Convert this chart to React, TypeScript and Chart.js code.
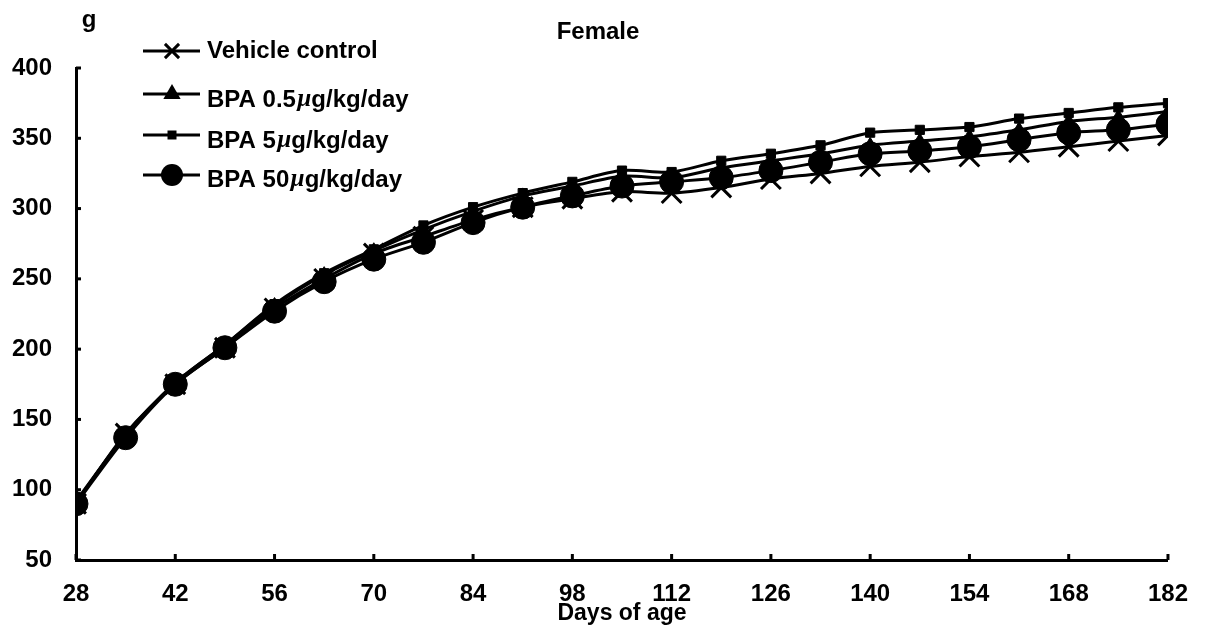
import React, { useEffect, useRef } from "react";
import { Chart, registerables } from "chart.js";
Chart.register(...registerables);

const days = [28, 35, 42, 49, 56, 63, 70, 77, 84, 91, 98, 105, 112, 119, 126, 133, 140, 147, 154, 161, 168, 175, 182];
const vehicleControl = [90, 140, 175, 201, 229, 250, 268, 280, 292, 301, 307, 312, 311, 315, 321, 325, 330, 333, 337, 340, 344, 348, 352];
const bpa05 = [91, 139, 176, 203, 231, 253, 270, 285, 298, 309, 316, 323, 322, 329, 334, 339, 345, 348, 351, 356, 362, 365, 369];
const bpa5 = [92, 139, 176, 203, 232, 254, 271, 288, 301, 311, 319, 327, 326, 334, 339, 345, 354, 356, 358, 364, 368, 372, 375];
const bpa50 = [90, 137, 175, 201, 227, 248, 264, 276, 290, 301, 309, 316, 319, 322, 327, 333, 339, 341, 344, 349, 354, 356, 360];

const xTickValues = [28, 42, 56, 70, 84, 98, 112, 126, 140, 154, 168, 182];
const yTickValues = [50, 100, 150, 200, 250, 300, 350, 400];

const legendPrefixes = ["Vehicle control", "BPA 0.5", "BPA 5", "BPA 50"];
const legendMu = ["", "\u00b5", "\u00b5", "\u00b5"];
const legendSuffix = ["", "g/kg/day", "g/kg/day", "g/kg/day"];
const markerStyles = ["cross", "triangle", "rect", "circle"];

const titleText = "Female";
const yUnit = "g";
const xTitle = "Days of age";

const SANS = "'Liberation Sans', Arial, sans-serif";

function drawMarker(ctx: CanvasRenderingContext2D, style: string, x: number, y: number, r: number) {
  ctx.save();
  ctx.fillStyle = "#000";
  ctx.strokeStyle = "#000";
  ctx.lineWidth = 3;
  ctx.beginPath();
  if (style === "cross") {
    const o = r * 0.707;
    ctx.moveTo(x - o, y - o);
    ctx.lineTo(x + o, y + o);
    ctx.moveTo(x + o, y - o);
    ctx.lineTo(x - o, y + o);
    ctx.stroke();
  } else if (style === "triangle") {
    ctx.moveTo(x, y - r);
    ctx.lineTo(x - r * 0.866, y + r / 2);
    ctx.lineTo(x + r * 0.866, y + r / 2);
    ctx.closePath();
    ctx.fill();
  } else if (style === "rect") {
    ctx.rect(x - r, y - r, 2 * r, 2 * r);
    ctx.fill();
  } else {
    ctx.arc(x, y, r, 0, Math.PI * 2);
    ctx.fill();
  }
  ctx.restore();
}

const decorPlugin = {
  id: "decor",
  afterDraw(chart: any) {
    const ctx: CanvasRenderingContext2D = chart.ctx;
    const xs = chart.scales.x;
    const ys = chart.scales.y;
    const area = chart.chartArea;
    ctx.save();
    ctx.strokeStyle = "#000";
    ctx.lineWidth = 3;
    yTickValues.forEach((v) => {
      const py = ys.getPixelForValue(v);
      ctx.beginPath();
      ctx.moveTo(area.left, py);
      ctx.lineTo(area.left + 5, py);
      ctx.stroke();
    });
    xTickValues.forEach((v) => {
      const px = xs.getPixelForValue(v);
      ctx.beginPath();
      ctx.moveTo(px, area.bottom);
      ctx.lineTo(px, area.bottom - 6);
      ctx.stroke();
    });
    ctx.fillStyle = "#000";
    ctx.font = "bold 24px " + SANS;
    ctx.textBaseline = "middle";
    ctx.textAlign = "center";
    ctx.fillText(titleText, 598, 32);
    ctx.fillText(yUnit, 89, 20);
    const lineY = [51, 94, 135, 175];
    const textY = [51, 100, 141, 180];
    const markerR = [10, 10, 4.5, 11];
    ctx.textAlign = "left";
    for (let i = 0; i < 4; i++) {
      ctx.lineWidth = 3;
      ctx.beginPath();
      ctx.moveTo(143, lineY[i]);
      ctx.lineTo(200, lineY[i]);
      ctx.stroke();
      drawMarker(ctx, markerStyles[i], 172, lineY[i], markerR[i]);
      let tx = 207;
      ctx.font = "bold 24px " + SANS;
      ctx.fillText(legendPrefixes[i], tx, textY[i]);
      tx += ctx.measureText(legendPrefixes[i]).width;
      if (legendMu[i]) {
        tx += 1;
        ctx.font = "italic bold 25px 'Liberation Serif', serif";
        ctx.fillText(legendMu[i], tx, textY[i]);
        tx += ctx.measureText(legendMu[i]).width;
        ctx.font = "bold 24px " + SANS;
        ctx.fillText(legendSuffix[i], tx, textY[i]);
      }
    }
    ctx.restore();
  },
};

function toPoints(vals: number[]) {
  return days.map((d, i) => ({ x: d, y: vals[i] }));
}

export default function App() {
  const ref = useRef<HTMLCanvasElement | null>(null);
  useEffect(() => {
    if (!ref.current) return;
    const common = {
      borderColor: "#000",
      backgroundColor: "#000",
      pointBackgroundColor: "#000",
      pointBorderColor: "#000",
      borderWidth: 3,
      tension: 0.3,
      fill: false,
    };
    const chart = new Chart(ref.current, {
      type: "line",
      data: {
        datasets: [
          { ...common, label: legendPrefixes[0], data: toPoints(vehicleControl), pointStyle: "crossRot", pointRadius: 14, pointBorderWidth: 3, order: 3 },
          { ...common, label: legendPrefixes[1], data: toPoints(bpa05), pointStyle: "triangle", pointRadius: 8, pointBorderWidth: 1, order: 2 },
          { ...common, label: legendPrefixes[2], data: toPoints(bpa5), pointStyle: "rect", pointRadius: 6.5, pointBorderWidth: 1, order: 1 },
          { ...common, label: legendPrefixes[3], data: toPoints(bpa50), pointStyle: "circle", pointRadius: 12, pointBorderWidth: 1, order: 0 },
        ],
      },
      options: {
        responsive: false,
        animation: false,
        layout: { padding: { top: 68, right: 38, left: 0, bottom: 0 } },
        plugins: { legend: { display: false }, tooltip: { enabled: false }, title: { display: false } },
        scales: {
          x: {
            type: "linear",
            min: 28,
            max: 182,
            afterBuildTicks: (scale: any) => {
              scale.ticks = xTickValues.map((v) => ({ value: v }));
            },
            afterFit: (scale: any) => {
              scale.height = 73;
            },
            grid: { display: false, drawTicks: false },
            border: { display: true, color: "#000", width: 3 },
            ticks: {
              color: "#000",
              padding: 20,
              maxRotation: 0,
              autoSkip: false,
              font: { family: SANS, size: 24, weight: "bold" },
            },
            title: {
              display: true,
              text: xTitle,
              color: "#000",
              padding: { top: 0, bottom: 6 },
              font: { family: SANS, size: 23, weight: "bold" },
            },
          },
          y: {
            type: "linear",
            min: 50,
            max: 400,
            afterBuildTicks: (scale: any) => {
              scale.ticks = yTickValues.map((v) => ({ value: v }));
            },
            afterFit: (scale: any) => {
              scale.width = 76;
            },
            grid: { display: false, drawTicks: false },
            border: { display: true, color: "#000", width: 3 },
            ticks: {
              color: "#000",
              padding: 24,
              font: { family: SANS, size: 24, weight: "bold" },
            },
          },
        },
      },
      plugins: [decorPlugin],
    } as any);
    return () => chart.destroy();
  }, []);
  return (
    <div style={{ position: "absolute", left: 0, top: 0, width: 1208, height: 633, background: "#fff" }}>
      <canvas ref={ref} width={1208} height={633} />
    </div>
  );
}
